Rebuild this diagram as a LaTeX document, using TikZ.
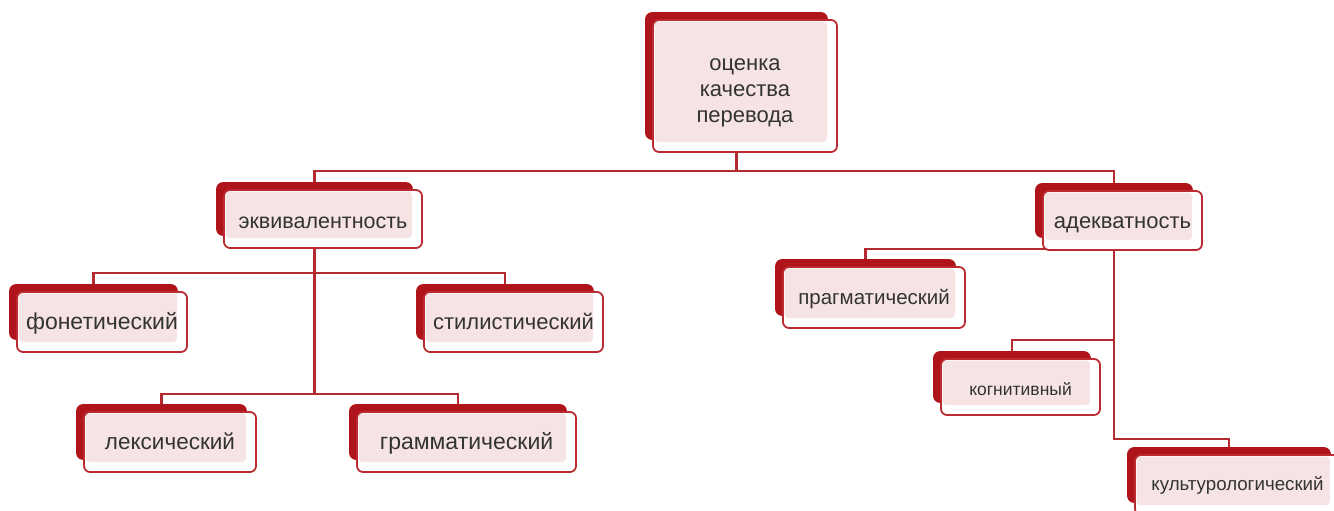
\documentclass[tikz,border=0pt]{standalone}
\usepackage{fontspec}
\setmainfont{Liberation Sans}
\usetikzlibrary{calc,backgrounds}
\definecolor{backred}{HTML}{AE1419}
\definecolor{edgered}{HTML}{BC2B31}
\definecolor{connred}{HTML}{B32A2F}
\definecolor{pinkc}{HTML}{F6E4E4}
\definecolor{txt}{HTML}{333333}
\tikzset{
  box/.style={draw=edgered, line width=1.8pt, fill=white, rounded corners=6pt,
    text=txt, align=center, inner sep=0pt,
    path picture={\fill[pinkc, rounded corners=4pt]
      ([xshift=1.5pt,yshift=-1.5pt]path picture bounding box.north west) rectangle
      ([xshift=-10pt,yshift=10pt]path picture bounding box.south east);}},
  backbox/.style={fill=backred, rounded corners=7pt},
  conn/.style={draw=connred, line width=2.3pt},
}
\newcommand\bx[8]{%
  \node[box, minimum width=#4pt, minimum height=#5pt, font=#6] (#1) at (#2,#3)
    {\raisebox{-#8pt}[\height][\depth]{\begin{tabular}{@{}c@{}}#7\end{tabular}}};
  \coordinate (#1-t) at ($(#1.north)+(-8.5,-7)$);
}
\newcommand\fs[1]{\fontsize{#1}{26}\selectfont}
\begin{document}
\begin{tikzpicture}[x=1pt,y=-1pt]
\useasboundingbox (0,0) rectangle (1334,511);
\bx{top}{745}{86}{184}{132}{\fs{22}}{оценка\\качества\\перевода}{5}
\bx{eq}{323}{219}{198}{58}{\fs{21.5}}{эквивалентность}{4}
\bx{ad}{1122.5}{220.5}{159}{59}{\fs{22}}{адекватность}{3}
\bx{fon}{102}{322}{170}{60}{\fs{23}}{фонетический}{2}
\bx{sti}{513.5}{322}{179}{60}{\fs{22}}{стилистический}{2}
\bx{lex}{170}{442}{172}{60}{\fs{22.5}}{лексический}{2}
\bx{gram}{466.5}{442}{219}{60}{\fs{23}}{грамматический}{2}
\bx{prag}{874}{297.5}{182}{61}{\fs{20.5}}{прагматический}{2}
\bx{kog}{1020.5}{387}{159}{56}{\fs{17.5}}{когнитивный}{3}
\bx{kul}{1237.5}{485}{205}{60}{\fs{18.7}}{культурологический}{0}
\begin{pgfonlayer}{background}
  \draw[conn] (eq-t) -- ++(0,-11) coordinate (b1) -| (ad-t);
  \draw[conn] (top-t) -- (top-t |- b1);
  \draw[conn] (fon-t) -- ++(0,-11) -| (sti-t);
  \draw[conn] (lex-t) -- ++(0,-10) coordinate (b3) -| (gram-t);
  \draw[conn] (eq-t) -- (eq-t |- b3);
  \draw[conn] (prag-t) -- ++(0,-10) -| (ad-t);
  \draw[conn] (kog-t) -- ++(0,-11) -| (ad-t);
  \draw[conn] (kul-t) -- ++(0,-8) -| (ad-t);
  \foreach \n in {top,eq,ad,fon,sti,lex,gram,prag,kog,kul}{
    \fill[backbox] ($(\n.north west)+(-7,-7)$) rectangle ($(\n.south east)+(-10,-13)$);
  }
\end{pgfonlayer}
\end{tikzpicture}
\end{document}
